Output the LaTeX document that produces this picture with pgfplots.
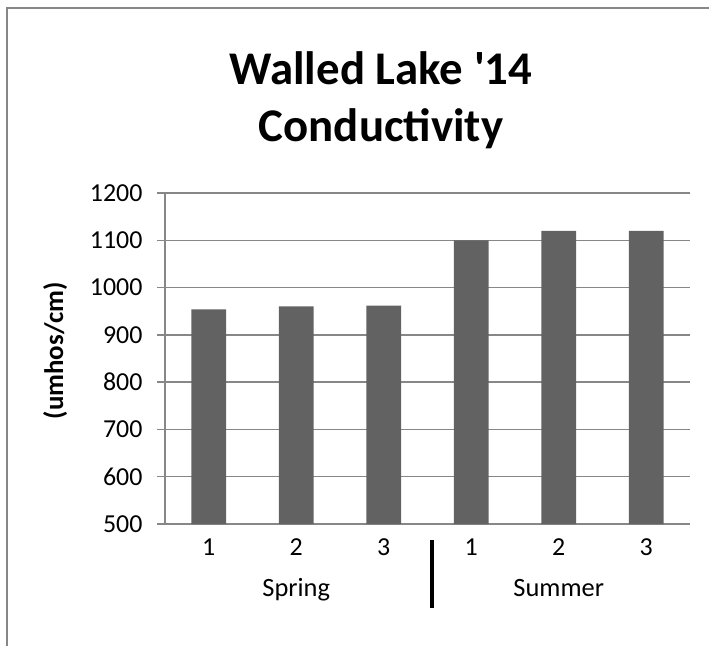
\documentclass[border=0pt]{standalone}
\usepackage{fontspec}
\setmainfont{Carlito}
\usepackage{pgfplots}
\pgfplotsset{compat=1.18}
\definecolor{barc}{HTML}{626262}
\definecolor{gridc}{HTML}{878787}
\begin{document}
\begin{tikzpicture}
\path[use as bounding box] (-165bp,-122bp) rectangle (544bp,524bp);
\draw[gridc, line width=1.5bp] (-158bp,-122bp) -- (-158bp,516bp) -- (544bp,516bp);
\begin{axis}[
  at={(0,0)}, anchor=south west,
  scale only axis, width=525bp, height=331bp,
  ymin=500, ymax=1200, ytick={500,600,...,1200},
  xmin=-0.5, xmax=5.5, xtick={0,1,2,3,4,5}, xticklabels={1,2,3,1,2,3},
  ybar, bar width=34.6bp,
  ymajorgrids, grid style={gridc, line width=1.5bp},
  axis x line*=bottom, axis y line*=left,
  axis line style={gridc, line width=1.5bp, -},
  tick align=outside, major tick length=8bp,
  x tick style={draw=none}, y tick style={gridc, line width=1.5bp},
  tick label style={font=\fontsize{26}{30}\selectfont, /pgf/number format/assume math mode=true, text=black},
  yticklabel style={/pgf/number format/1000 sep={}, xshift=-11bp},
  xticklabel style={anchor=base, yshift=-23bp},
  ylabel={(umhos/cm)},
  ylabel style={font=\bfseries\fontsize{27}{30}\selectfont, at={(axis description cs:-0.209,0.523)}, anchor=center},
  clip mode=individual,
]
\addplot[fill=barc, draw=none] coordinates {(0,954) (1,960) (2,962) (3,1100) (4,1120) (5,1120)};
\node[anchor=base, font=\fontsize{26.5}{30}\selectfont] at ([yshift=-72bp]axis cs:1,500) {Spring};
\node[anchor=base, font=\fontsize{26.5}{30}\selectfont] at ([yshift=-72bp]axis cs:4,500) {Summer};
\draw[black, line width=4.5bp] ([yshift=-16bp]axis cs:2.55,500) -- ([yshift=-84bp]axis cs:2.55,500);
\end{axis}
\node[anchor=base, font=\bfseries\fontsize{47}{52}\selectfont] at (216bp,439bp) {Walled Lake \textquotesingle 14};
\node[anchor=base, font=\bfseries\fontsize{47}{52}\selectfont] at (216bp,382bp) {Conductivity};
\end{tikzpicture}
\end{document}
